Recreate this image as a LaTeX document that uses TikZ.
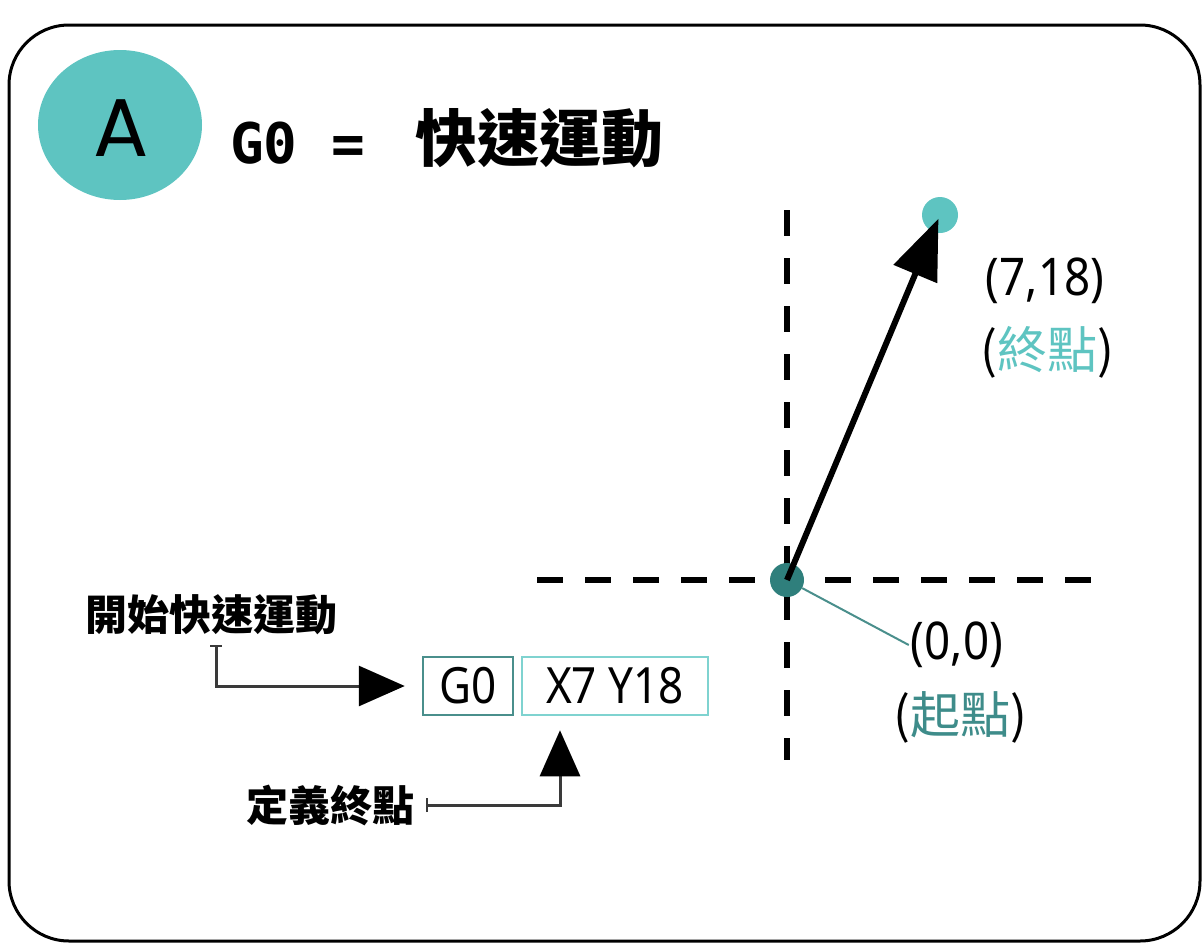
\documentclass[tikz,border=0pt]{standalone}
\usepackage{fontspec}
\usetikzlibrary{arrows.meta,shapes.geometric,calc}
\newfontfamily\cjk{Noto Sans CJK TC}
\newfontfamily\monof{DejaVu Sans Mono}
\newfontfamily\condf[FakeStretch=0.88]{Noto Sans}
\newfontfamily\afont{Poppins}
\definecolor{tlight}{HTML}{5EC4C1}
\definecolor{tdark}{HTML}{2F7F7C}
\definecolor{tmid}{HTML}{3E8C8A}
\definecolor{boxdark}{HTML}{4A8F8C}
\definecolor{boxlight}{HTML}{7FD3D0}
\definecolor{conngray}{HTML}{3A3A3A}
\begin{document}
\begin{tikzpicture}[x=1pt,y=-1pt,
  axis/.style={line width=6pt, dash pattern=on 26pt off 22pt},
  conn/.style={line width=3pt, draw=conngray},
  codebox/.style={draw, line width=2.5pt, minimum height=58pt, inner sep=0pt, font=\condf\fontsize{50}{50}\selectfont},
  coord/.style={inner sep=0pt, font=\condf\fontsize{52}{52}\selectfont},
  cjklab/.style={inner sep=0pt, font=\cjk\fontsize{50}{50}\selectfont},
  sidelab/.style={inner sep=0pt, font=\cjk\bfseries\fontsize{42}{42}\selectfont}]
\useasboundingbox (0,0) rectangle (1203,943);
% frame
\draw[line width=3pt, rounded corners=60pt] (9,25) rectangle (1200,941);
% badge
\node[ellipse, fill=tlight, minimum width=164pt, minimum height=150pt, inner sep=0pt] (badge) at (120,125) {};
\node[inner sep=0pt, font=\afont\fontsize{82}{82}\selectfont] (Aletter) at (121,128) {A};
% title
\node[anchor=west, inner sep=0pt, font=\monof\bfseries\fontsize{56}{56}\selectfont] (t1) at (230,143) {G0 =};
\node[anchor=west, inner sep=0pt, font=\cjk\bfseries\fontsize{62}{62}\selectfont] (t2) at (415,138) {快速運動};
% axes
\coordinate (vtop) at (787,210);
\coordinate (vbot) at (787,760);
\coordinate (hl) at (537,580);
\coordinate (hr) at (1100,580);
\draw[axis] (vtop) -- (vbot);
\draw[axis] (hl) -- (hr);
% dots
\node[circle, fill=tdark, minimum size=34pt, inner sep=0pt] (O) at (787,580) {};
\node[circle, fill=tlight, minimum size=36pt, inner sep=0pt] (E) at (940,215) {};
\draw[line width=6pt, -{Triangle[length=60pt,width=46pt]}, shorten >=4pt] (O.center) -- (E.center);
% labels
\node[coord] (l718) at (1045,281) {(7,18)};
\node[cjklab] (lend) at (1047,352) {(\textcolor{tlight}{終點})};
\node[coord] (l00) at (957,645) {(0,0)};
\node[cjklab] (lstart) at (960,717) {(\textcolor{tmid}{起點})};
\draw[line width=2pt, draw=boxdark] (O) -- ([xshift=-2pt]l00.west);
% code boxes
\node[codebox, draw=boxdark, minimum width=90pt] (g0) at (468,686) {G0};
\node[codebox, draw=boxlight, minimum width=186pt] (xy) at (615,686) {X7 Y18};
% side labels and connectors
\node[sidelab] (kaishi) at (211,615) {開始快速運動};
\node[sidelab] (dingyi) at (330,805) {定義終點};
\coordinate (k1) at ([xshift=5pt,yshift=-10pt]kaishi.south);
\draw[conn, {Bar[width=12pt,line width=2pt]}-{Triangle[length=46pt,width=40pt,color=black]}, shorten >=17pt] (k1) |- (g0.west);
\coordinate (d1) at ([xshift=12pt]dingyi.east);
\draw[conn, {Bar[width=14pt,line width=2pt]}-{Triangle[length=46pt,width=40pt,color=black]}, shorten >=14pt] (d1) -| ([xshift=-55pt]xy.south);
\end{tikzpicture}
\end{document}
